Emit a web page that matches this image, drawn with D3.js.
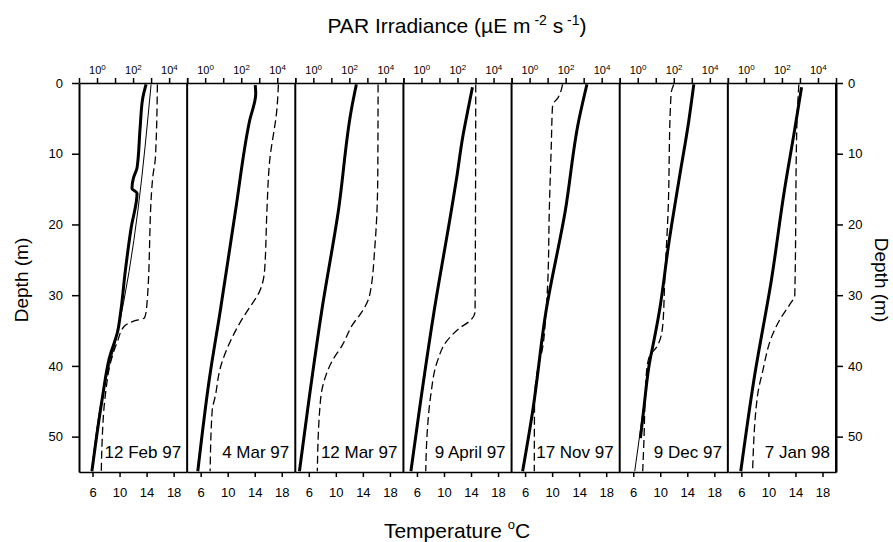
<!DOCTYPE html>
<html>
<head>
<meta charset="utf-8">
<script src="https://cdn.jsdelivr.net/npm/d3@7"></script>
<style>
  body { margin: 0; background: #fff; }
  svg { display: block; font-family: "Liberation Sans", Arial, sans-serif; }
</style>
</head>
<body>
<svg id="chart" width="893" height="542"></svg>
<script>
// panel labels
const dates = ["12 Feb 97", "4 Mar 97", "12 Mar 97", "9 April 97", "17 Nov 97", "9 Dec 97", "7 Jan 98"];

// axis ticks
const depthTicks = [0, 10, 20, 30, 40, 50];
const tempTicks = [6, 10, 14, 18];
const parTicks = [0.1, 1, 10, 100, 1000, 10000, 100000];
const parLabelExp = [0, 2, 4];

// PAR irradiance profiles: [depth m, PAR uE m-2 s-1]
const par12Feb = [[0.2, 525], [2.1, 347], [6.4, 245], [12.0, 166], [13.4, 105], [14.9, 87], [15.6, 166], [20.5, 78], [26.6, 37], [32.2, 21], [35.1, 14], [38.9, 4.8], [44.1, 2.1], [54.9, 0.52]];
const par12FebB = [[0.2, 1000], [35.5, 13], [44.1, 2.0], [54.9, 0.5]];
const par4Mar = [[0.3, 600], [1.5, 640], [5.4, 288], [18.1, 48], [32.3, 6.8], [41.7, 1.74], [54.9, 0.39]];
const par12Mar = [[0.2, 245], [3.5, 135], [18.1, 24.5], [32.3, 2.9], [46.4, 0.47], [54.9, 0.17]];
const par9Apr = [[0.6, 676], [3.5, 400], [7.8, 190], [13.4, 90], [18.1, 45], [32.3, 5], [46.4, 0.75], [54.9, 0.26]];
const par17Nov = [[0.2, 1514], [5.4, 525], [18.1, 95], [32.3, 8.1], [46.4, 1.48], [54.9, 0.41]];
const par9Dec = [[0.2, 1288], [5.4, 676], [13.4, 204], [22.8, 52], [32.3, 15.8], [37.5, 6.5], [38.9, 5.0], [46.4, 2.1], [50.2, 1.41]];
const par9DecB = [[38, 5.6], [54.9, 0.68]];
const par7Jan = [[0.6, 1230], [6.4, 525], [15.3, 135], [27.6, 27], [41.7, 2.9], [54.9, 0.52]];

// temperature profiles: [depth m, temperature C]
const temp12Feb = [[0.2, 15.6], [10.6, 15.3], [13.4, 14.9], [31.8, 14.0], [33.2, 13.7], [33.7, 12.0], [34.4, 10.7], [36.5, 9.7], [39.4, 8.7], [44.1, 7.9], [51.2, 7.4], [54.9, 7.3]];
const temp4Mar = [[0.2, 17.5], [3.5, 17.3], [11.1, 16.2], [18.1, 15.8], [26.6, 15.45], [29.5, 14.7], [31.8, 13.2], [33.2, 12.25], [36.5, 10.4], [40.3, 8.9], [44.1, 8.2], [46.4, 7.7], [54.9, 7.4]];
const temp12Mar = [[0.2, 16.25], [13.4, 16.2], [22.8, 15.8], [30.0, 15.0], [32.3, 13.9], [34.2, 12.45], [37.0, 11.0], [39.4, 9.4], [42.7, 8.1], [46.4, 7.6], [54.9, 7.26]];
const temp9Apr = [[0.2, 14.7], [32.3, 14.6], [33.5, 14.0], [34.7, 12.25], [36.5, 10.4], [39.4, 9.0], [44.1, 8.05], [48.8, 7.56], [54.9, 7.3]];
const temp17Nov = [[0.2, 11.55], [2.1, 10.86], [3.1, 10.07], [8.7, 9.88], [18.1, 9.58], [27.6, 9.38], [32.3, 9.1], [37.9, 8.5], [40.3, 7.9], [45.0, 7.4], [54.9, 7.36]];
const temp9Dec = [[0.2, 12.0], [1.2, 11.65], [3.5, 11.5], [18.1, 11.16], [27.6, 10.67], [34.2, 10.37], [37.0, 9.67], [38.9, 8.3], [41.7, 7.9], [51.2, 7.56], [54.9, 7.4]];
const temp7Jan = [[0.2, 14.5], [6.4, 14.2], [30.0, 13.9], [31.4, 13.1], [33.2, 11.85], [35.6, 10.6], [40.8, 9.14], [44.1, 8.4], [54.9, 7.66]];

const panels = [
  { date: dates[0], par: par12Feb, par2: par12FebB, temp: temp12Feb },
  { date: dates[1], par: par4Mar, temp: temp4Mar },
  { date: dates[2], par: par12Mar, temp: temp12Mar },
  { date: dates[3], par: par9Apr, temp: temp9Apr },
  { date: dates[4], par: par17Nov, temp: temp17Nov },
  { date: dates[5], par: par9Dec, par2: par9DecB, temp: temp9Dec },
  { date: dates[6], par: par7Jan, temp: temp7Jan }
];

const svg = d3.select("#chart");
const plotL = 79, plotR = 836, plotT = 83, plotB = 472;
const pw = (plotR - plotL) / panels.length;

const y = d3.scaleLinear().domain([0, 55]).range([plotT, plotB]);

// left / right depth axes
const leftAxis = svg.append("g")
  .attr("transform", `translate(${plotL},0)`)
  .call(d3.axisLeft(y).tickValues(depthTicks).tickSize(7).tickPadding(9).tickSizeOuter(0));
const rightAxis = svg.append("g")
  .attr("transform", `translate(${plotR},0)`)
  .call(d3.axisRight(y).tickValues(depthTicks).tickSize(7).tickPadding(5).tickSizeOuter(0));
[leftAxis, rightAxis].forEach(g => {
  g.selectAll("text").attr("font-size", 13).attr("font-family", null).attr("fill", "#000");
  g.selectAll("line").attr("stroke-width", 1.5);
  g.select(".domain").attr("stroke-width", 2);
});

panels.forEach((p, i) => {
  const x0 = plotL + i * pw, x1 = x0 + pw;
  const xT = d3.scaleLinear().domain([4, 20]).range([x0, x1]);
  const xP = d3.scaleLog().domain([0.1, 100000]).range([x0, x1]);
  const g = svg.append("g");

  g.append("clipPath").attr("id", "clip" + i)
    .append("rect").attr("x", x0).attr("y", plotT).attr("width", pw).attr("height", plotB - plotT);

  // top PAR axis
  const ta = g.append("g").attr("transform", `translate(0,${plotT})`)
    .call(d3.axisTop(xP).tickValues(parTicks).tickSize(5).tickSizeOuter(0).tickFormat(""));
  ta.selectAll("line").attr("stroke-width", 1.5);
  ta.select(".domain").attr("stroke-width", 1.5);
  parLabelExp.forEach(e => {
    const t = g.append("text")
      .attr("x", xP(Math.pow(10, e)) - 8)
      .attr("y", plotT - 9)
      .attr("font-size", 11);
    t.append("tspan").text("10");
    t.append("tspan").attr("font-size", 8).attr("dy", -4).text(e);
  });

  // bottom temperature axis
  const ba = g.append("g").attr("transform", `translate(0,${plotB})`)
    .call(d3.axisBottom(xT).tickValues(tempTicks).tickSize(5).tickPadding(11).tickSizeOuter(0));
  ba.selectAll("text").attr("font-size", 13).attr("font-family", null).attr("fill", "#000");
  ba.selectAll("line").attr("stroke-width", 1.5);
  ba.select(".domain").attr("stroke-width", 1.5);

  // panel separator
  g.append("line").attr("x1", x1).attr("x2", x1).attr("y1", plotT).attr("y2", plotB)
    .attr("stroke", "#000").attr("stroke-width", 2);

  const lines = g.append("g").attr("clip-path", `url(#clip${i})`).attr("fill", "none");

  const parLine = d3.line().x(d => xP(d[1])).y(d => y(d[0])).curve(d3.curveMonotoneY);
  const tempLine = d3.line().x(d => xT(d[1])).y(d => y(d[0])).curve(d3.curveMonotoneY);

  lines.append("path").attr("d", tempLine(p.temp))
    .attr("stroke", "#000").attr("stroke-width", 1.3).attr("stroke-dasharray", "8,4");
  if (p.par2) {
    lines.append("path").attr("d", parLine(p.par2))
      .attr("stroke", "#000").attr("stroke-width", 1);
  }
  lines.append("path").attr("d", parLine(p.par))
    .attr("stroke", "#000").attr("stroke-width", 3).attr("stroke-linejoin", "round");

  g.append("text")
    .attr("x", x1 - 6).attr("y", plotB - 14)
    .attr("text-anchor", "end").attr("font-size", 17)
    .text(p.date);
});

// axis titles
const parTitle = svg.append("text").attr("x", 457).attr("y", 33)
  .attr("text-anchor", "middle").attr("font-size", 21);
parTitle.append("tspan").text("PAR Irradiance (\u00b5E m");
parTitle.append("tspan").attr("font-size", 14).attr("dy", -8).text(" -2");
parTitle.append("tspan").attr("dy", 8).text(" s");
parTitle.append("tspan").attr("font-size", 14).attr("dy", -8).text(" -1");
parTitle.append("tspan").attr("dy", 8).text(")");

const tTitle = svg.append("text").attr("x", 457).attr("y", 538)
  .attr("text-anchor", "middle").attr("font-size", 21);
tTitle.append("tspan").text("Temperature ");
tTitle.append("tspan").attr("font-size", 13).attr("dy", -9).text("o");
tTitle.append("tspan").attr("dy", 9).text("C");

svg.append("text").attr("transform", "translate(28,280) rotate(-90)")
  .attr("text-anchor", "middle").attr("font-size", 19).text("Depth (m)");
svg.append("text").attr("transform", "translate(875,280) rotate(90)")
  .attr("text-anchor", "middle").attr("font-size", 19).text("Depth (m)");
</script>
</body>
</html>
